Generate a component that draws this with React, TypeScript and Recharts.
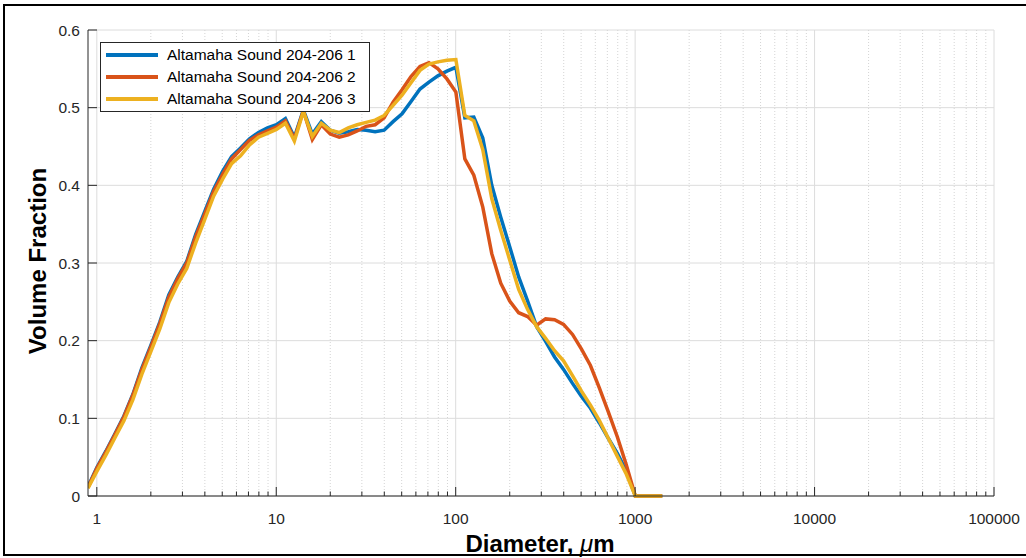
import { LineChart, Line, XAxis, YAxis, CartesianGrid, Legend, ReferenceLine } from 'recharts';

// particle size bins (um), 1/6 octave
const diameters = [
  0.893, 1.002, 1.125, 1.262, 1.416, 1.589, 1.783, 2.0, 2.244, 2.518,
  2.825, 3.17, 3.557, 3.991, 4.477, 5.024, 5.637, 6.325, 7.096, 7.962,
  8.934, 10.024, 11.247, 12.619, 14.159, 15.887, 17.825, 20.0, 22.44, 25.179,
  28.251, 31.698, 35.566, 39.905, 44.774, 50.238, 56.368, 63.246, 70.963, 79.621,
  89.337, 100.237, 112.468, 126.191, 141.589, 158.866, 178.25, 200.0, 224.404, 251.785,
  282.508, 316.979, 355.656, 399.052, 447.744, 502.377, 563.677, 632.456, 709.627, 796.214,
  893.367, 1002.374, 1124.683, 1261.915, 1415.892,
];

const sample1 = [
  0.012, 0.037, 0.058, 0.080, 0.103, 0.131, 0.165, 0.194, 0.224, 0.259,
  0.282, 0.302, 0.337, 0.366, 0.395, 0.418, 0.437, 0.448, 0.460, 0.468,
  0.474, 0.478, 0.486, 0.462, 0.497, 0.466, 0.482, 0.471, 0.467, 0.469,
  0.472, 0.471, 0.469, 0.471, 0.482, 0.492, 0.508, 0.524, 0.533, 0.541,
  0.547, 0.552, 0.487, 0.488, 0.461, 0.400, 0.359, 0.321, 0.282, 0.251,
  0.218, 0.199, 0.179, 0.163, 0.145, 0.128, 0.113, 0.094, 0.074, 0.055,
  0.032, 0, 0, 0, 0,
];

const sample2 = [
  0.011, 0.036, 0.057, 0.079, 0.102, 0.130, 0.163, 0.192, 0.222, 0.256,
  0.280, 0.300, 0.334, 0.363, 0.392, 0.414, 0.434, 0.446, 0.458, 0.465,
  0.470, 0.475, 0.483, 0.460, 0.496, 0.459, 0.478, 0.466, 0.462, 0.465,
  0.470, 0.476, 0.478, 0.487, 0.507, 0.523, 0.540, 0.553, 0.558, 0.550,
  0.537, 0.520, 0.434, 0.413, 0.372, 0.312, 0.274, 0.251, 0.236, 0.231,
  0.220, 0.228, 0.227, 0.221, 0.208, 0.189, 0.168, 0.139, 0.108, 0.076,
  0.040, 0, 0, 0, 0,
];

const sample3 = [
  0.010, 0.032, 0.053, 0.075, 0.097, 0.124, 0.157, 0.186, 0.215, 0.249,
  0.273, 0.293, 0.326, 0.356, 0.386, 0.408, 0.428, 0.438, 0.452, 0.462,
  0.467, 0.472, 0.480, 0.457, 0.495, 0.463, 0.480, 0.471, 0.468, 0.474,
  0.478, 0.481, 0.484, 0.490, 0.503, 0.516, 0.532, 0.548, 0.556, 0.559,
  0.561, 0.562, 0.490, 0.483, 0.446, 0.383, 0.342, 0.304, 0.266, 0.240,
  0.218, 0.203, 0.187, 0.174, 0.155, 0.135, 0.117, 0.097, 0.074, 0.051,
  0.028, 0, 0, 0, 0,
];

const seriesNames = ['Altamaha Sound 204-206 1', 'Altamaha Sound 204-206 2', 'Altamaha Sound 204-206 3'];
const seriesColors = ['#0072BD', '#D95319', '#EDB120'];

const majorTicks = [1, 10, 100, 1000, 10000, 100000];
const minorTicks = [
  2, 3, 4, 5, 6, 7, 8, 9,
  20, 30, 40, 50, 60, 70, 80, 90,
  200, 300, 400, 500, 600, 700, 800, 900,
  2000, 3000, 4000, 5000, 6000, 7000, 8000, 9000,
  20000, 30000, 40000, 50000, 60000, 70000, 80000, 90000,
];
const yTicks = [0, 0.1, 0.2, 0.3, 0.4, 0.5, 0.6];

const data = diameters.map((d, i) => ({ d, s1: sample1[i], s2: sample2[i], s3: sample3[i] }));
const allXTicks = [...majorTicks, ...minorTicks].sort((a, b) => a - b);

const FONT = "'Liberation Sans', Arial, Helvetica, sans-serif";
const AXIS = '#262626';

const XTick = (props: any) => {
  const { x, y, payload } = props;
  const major = majorTicks.includes(payload.value);
  return (
    <g>
      <line x1={x} x2={x} y1={y} y2={y - (major ? 9 : 4.5)} stroke={AXIS} strokeWidth={1} />
      {major && (
        <text x={x} y={y + 28} textAnchor="middle" fontSize={15.5} fill={AXIS} fontFamily={FONT}>
          {payload.value}
        </text>
      )}
    </g>
  );
};

const YTick = (props: any) => {
  const { x, y, payload } = props;
  return (
    <g>
      <line x1={x} x2={x + 9} y1={y} y2={y} stroke={AXIS} strokeWidth={1} />
      <text x={x - 8} y={y + 5.5} textAnchor="end" fontSize={15.5} fill={AXIS} fontFamily={FONT}>
        {payload.value}
      </text>
    </g>
  );
};

const renderLegend = (props: any) => {
  const { payload } = props;
  return (
    <div
      style={{
        boxSizing: 'border-box',
        width: 270,
        height: 70,
        border: `1px solid ${AXIS}`,
        background: '#fff',
        paddingTop: 1,
        paddingLeft: 5,
        fontFamily: FONT,
        fontSize: 15.5,
        color: '#000',
      }}
    >
      {payload.map((p: any) => (
        <div key={p.value} style={{ display: 'flex', alignItems: 'center', height: 22 }}>
          <div style={{ width: 52, height: 3.5, background: p.color, marginRight: 9 }} />
          <span style={{ whiteSpace: 'nowrap' }}>{p.value}</span>
        </div>
      ))}
    </div>
  );
};

export default function App() {
  return (
    <div style={{ position: 'absolute', left: 0, top: 0, width: 1026, height: 558, overflow: 'hidden', background: '#fff' }}>
      <div
        style={{
          position: 'absolute',
          left: 3,
          top: 4,
          width: 1040,
          height: 552,
          boxSizing: 'border-box',
          border: '2px solid #000',
        }}
      />
      <div style={{ position: 'absolute', left: 0, top: 0 }}>
        <LineChart width={1026} height={558} data={data} margin={{ top: 30, right: 32, left: 48, bottom: 32 }}>
          <CartesianGrid vertical={false} stroke="#dcdcdc" />
          {minorTicks.map((t) => (
            <ReferenceLine key={'m' + t} x={t} stroke="#d4d4d4" strokeDasharray="1 2" />
          ))}
          {majorTicks.map((t) => (
            <ReferenceLine key={'M' + t} x={t} stroke="#dcdcdc" />
          ))}
          <XAxis
            dataKey="d"
            type="number"
            scale="log"
            domain={[0.893, 100000]}
            allowDataOverflow
            ticks={allXTicks}
            interval={0}
            tick={<XTick />}
            tickLine={false}
            tickSize={0}
            tickMargin={0}
            height={30}
            stroke={AXIS}
            label={{
              content: () => (
                <text x={540} y={552} textAnchor="middle" fontSize={24} fontWeight="bold" fill="#000" fontFamily={FONT}>
                  Diameter, <tspan fontStyle="italic" fontWeight="normal">μ</tspan>m
                </text>
              ),
            }}
          />
          <YAxis
            type="number"
            domain={[0, 0.6]}
            ticks={yTicks}
            interval={0}
            width={40}
            tick={<YTick />}
            tickLine={false}
            tickSize={0}
            tickMargin={0}
            stroke={AXIS}
            label={{
              content: () => (
                <text
                  x={37}
                  y={261}
                  transform="rotate(-90 37 261)"
                  textAnchor="middle"
                  dominantBaseline="central"
                  fontSize={24}
                  fontWeight="bold"
                  fill="#000"
                  fontFamily={FONT}
                >
                  Volume Fraction
                </text>
              ),
            }}
          />
          <Legend
            layout="horizontal"
            verticalAlign="middle"
            content={renderLegend}
            wrapperStyle={{ position: 'absolute', left: 100, top: 42, width: 270, height: 70 }}
          />
          <Line dataKey="s1" name={seriesNames[0]} stroke={seriesColors[0]} strokeWidth={3.5} dot={false} isAnimationActive={false} />
          <Line dataKey="s2" name={seriesNames[1]} stroke={seriesColors[1]} strokeWidth={3.5} dot={false} isAnimationActive={false} />
          <Line dataKey="s3" name={seriesNames[2]} stroke={seriesColors[2]} strokeWidth={3.5} dot={false} isAnimationActive={false} />
        </LineChart>
      </div>
    </div>
  );
}
